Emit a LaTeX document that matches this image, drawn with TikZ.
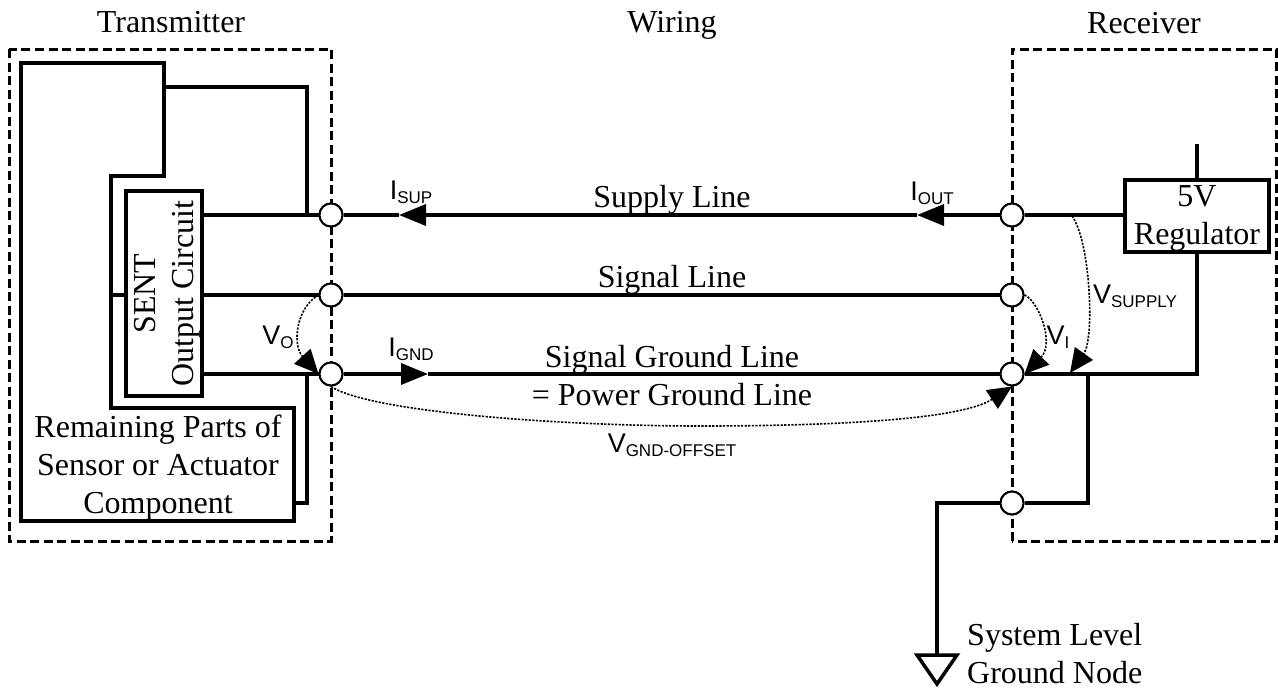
\documentclass[tikz,border=0pt]{standalone}
\usepackage{fontspec}
\setmainfont{Liberation Serif}
\setsansfont{Liberation Sans}
\usetikzlibrary{arrows.meta,calc}
\tikzstyle{frame} = [line width=3pt, dash pattern=on 9pt off 4.5pt]
\tikzstyle{wire} = [line width=3.5pt, line join=miter]
\tikzstyle{box} = [draw=black, line width=3.5pt, inner sep=0pt, align=center, font=\fontsize{32}{38}\selectfont]
\tikzstyle{txt} = [inner sep=0pt, align=center, font=\fontsize{32}{38}\selectfont]
\tikzstyle{port} = [circle, draw=black, fill=white, line width=2pt, minimum size=23pt, inner sep=0pt]
\tikzstyle{flow} = [wire, -{Triangle[length=27pt,width=21pt]}]
\tikzstyle{volt} = [line width=1.6pt, dash pattern=on 2.2pt off 1.4pt, -{Triangle[length=24pt,width=22pt]}]
\tikzstyle{meas} = [inner sep=0pt, font=\sffamily\fontsize{27}{27}\selectfont]
\newcommand{\qty}[2]{#1\raisebox{-4pt}{\fontsize{17}{17}\selectfont #2}}

\begin{document}
\begin{tikzpicture}[x=1pt, y=-1pt]
    \useasboundingbox (0,0) rectangle (1278,689);
    \draw[frame] (9,49) rectangle (331,541);
    \draw[frame] (1012,541) -- (1012,49) -- (1276.5,49) -- (1276.5,541) -- cycle;
    \node[txt, anchor=base] (tx) at (171,32) {Transmitter};
    \node[txt, anchor=base] (wiring) at (672,32) {Wiring};
    \node[txt, anchor=base] (rx) at (1144,33) {Receiver};
    % sensor outline and its blocks
    \draw[wire] (21,63) -- (164,63) -- (164,176) -- (111,176) -- (111,408) -- (294,408) -- (294,521) -- (21,521) -- cycle;
    \node[txt] (rest) at (158,468) {Remaining Parts of\\Sensor or Actuator\\Component};
    \node[box, rotate=90, minimum width=205pt, minimum height=76pt] (sent) at (164,293.5) {\rule{0pt}{28pt}SENT\\Output Circuit};
    \node[box, minimum width=144pt, minimum height=72pt] (reg) at (1197,216) {\rule{0pt}{26pt}5V\\Regulator};
    \node[port] (lsup) at (331,215) {};
    \node[port] (lsig) at (331,295) {};
    \node[port] (lgnd) at (331,374) {};
    \node[port] (rsup) at (1012,215) {};
    \node[port] (rsig) at (1012,295) {};
    \node[port] (rgnd) at (1012,374) {};
    \node[port] (rsys) at (1012,503) {};
    \coordinate (tsup) at (307,215);
    \coordinate (tgnd) at (307,374);
    \coordinate (isup) at (399,215);
    \coordinate (iout) at (917,215);
    \coordinate (ignd) at (428,374);
    \coordinate (rturn) at (1197,374);
    \coordinate (rtee) at (1088,374);
    \coordinate (gnd) at (937,655);
    % wires
    \draw[wire] (164,87) -- (tsup |- 164,87) -- (tsup);
    \draw[wire] (tgnd) -- (tgnd |- 294,503) -- (294,503);
    \draw[wire] (sent.south |- lsup) -- (lsup);
    \draw[wire] (sent.south |- lsig) -- (lsig);
    \draw[wire] (sent.south |- lgnd) -- (lgnd);
    \draw[wire] (111,295) -- (sent.north |- lsig);
    \draw[flow] (rsup) -- (iout);
    \draw[flow] (iout) -- (isup);
    \draw[wire] (isup) -- (lsup);
    \draw[wire] (lsig) -- (rsig);
    \draw[flow] (lgnd) -- (ignd);
    \draw[wire] (ignd) -- (rgnd);
    \draw[wire] (rsup) -- (reg.west |- rsup);
    \draw[wire] (reg.north) -- ++(0,-34);
    \draw[wire] (reg.south) -- (rturn) -- (rgnd);
    \draw[wire] (rtee) -- (rtee |- rsys) -- (rsys);
    \draw[wire] (rsys) -- (gnd |- rsys) -- (gnd);
    \draw[wire] (917,655) -- (957,655) -- (937,684) -- cycle;
    \draw[wire, line width=4.5pt] (937,635) -- (gnd);
    % redraw ports on top of the wires
    \foreach \p in {lsup,lsig,lgnd,rsup,rsig,rgnd,rsys}
        \node[port] at (\p) {};
    % voltages
    \draw[volt] (lsig.west) .. controls (296,308) and (292,345) .. (lgnd.west);
    \draw[volt] (lgnd.south) .. controls (370,412) and (560,426) .. (700,426) .. controls (830,426) and (960,420) .. (rgnd.south);
    \draw[volt] (rsig.east) .. controls (1038,300) and (1055,343) .. (rgnd.east);
    \draw[volt] (1072,216) .. controls (1090,240) and (1095,338) .. (1070,373);
    % labels
    \node[txt] (supl) at (672,200) {Supply Line};
    \node[txt] (sigl) at (672,280) {Signal Line};
    \node[txt] (gndl) at (672,376) {Signal Ground Line\\= Power Ground Line};
    \node[txt, anchor=west] (sysl) at (967,653.5) {\hspace*{0pt}System Level\\Ground Node};
    \node[meas] (msup) at (411,192) {\qty{I}{SUP}};
    \node[meas] (mout) at (932,193) {\qty{I}{OUT}};
    \node[meas] (mgnd) at (411,349) {\qty{I}{GND}};
    \node[meas] (mo) at (278,337) {\qty{V}{O}};
    \node[meas] (mi) at (1058,337) {\qty{V}{I}};
    \node[meas] (msupply) at (1135,296) {\qty{V}{SUPPLY}};
    \node[meas] (moff) at (672,445) {\qty{V}{GND-OFFSET}};
    \end{tikzpicture}
\end{document}
